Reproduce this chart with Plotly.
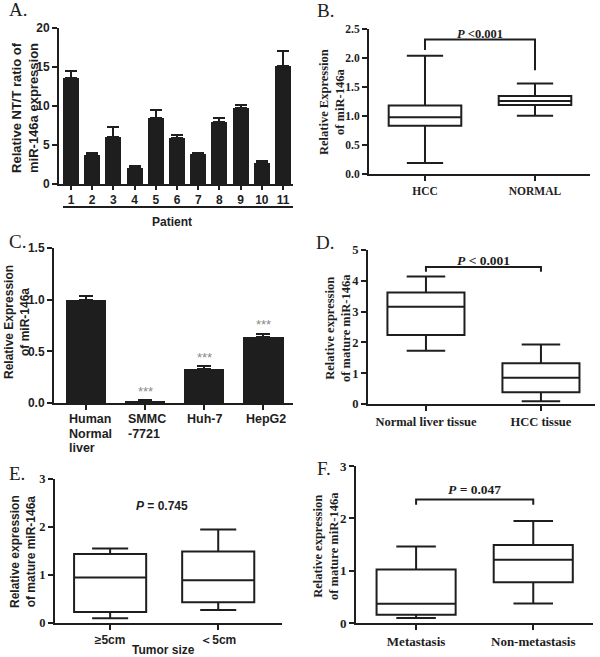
import plotly.graph_objects as go

# ---------------- DATA ----------------
# Panel A
patients = [1, 2, 3, 4, 5, 6, 7, 8, 9, 10, 11]
ratio = [13.6, 3.7, 6.05, 2.1, 8.45, 5.9, 3.85, 8.0, 9.8, 2.7, 15.1]
ratio_err = [0.9, 0.25, 1.2, 0.2, 1.1, 0.35, 0.1, 0.45, 0.3, 0.3, 2.0]

# Panel B
b_groups = ["HCC", "NORMAL"]
b_low = [0.19, 1.006]
b_q1 = [0.83, 1.19]
b_med = [0.98, 1.26]
b_q3 = [1.18, 1.345]
b_high = [2.04, 1.56]

# Panel C
cells = ["Human<br>Normal<br>liver", "SMMC<br>-7721", "Huh-7", "HepG2"]
cell_expr = [0.997, 0.022, 0.325, 0.637]
cell_err = [0.035, 0.008, 0.03, 0.035]
cell_sig = ["", "***", "***", "***"]

# Panel D
d_groups = ["Normal liver tissue", "HCC tissue"]
d_low = [1.73, 0.09]
d_q1 = [2.24, 0.38]
d_med = [3.16, 0.85]
d_q3 = [3.62, 1.32]
d_high = [4.14, 1.93]

# Panel E
e_groups = ["≥5cm", "＜5cm"]
e_low = [0.10, 0.27]
e_q1 = [0.23, 0.43]
e_med = [0.95, 0.89]
e_q3 = [1.44, 1.49]
e_high = [1.55, 1.95]

# Panel F
f_groups = ["Metastasis", "Non-metastasis"]
f_low = [0.095, 0.375]
f_q1 = [0.16, 0.78]
f_med = [0.37, 1.21]
f_q3 = [1.02, 1.49]
f_high = [1.46, 1.95]

# ---------------- LAYOUT HELPERS ----------------
W, H = 600, 657
INK = "#1e1e1e"
SANS = "Liberation Sans, Arial, sans-serif"
SERIF = "Liberation Serif, Times New Roman, serif"


def px_x(p):
    return p / W


def px_y(p):
    return 1 - p / H


fig = go.Figure()

# ---------- Panel A : bars ----------
fig.add_trace(go.Bar(
    x=patients, y=ratio, width=0.75, marker=dict(color=INK, line=dict(width=0)),
    error_y=dict(type="data", symmetric=False, array=ratio_err,
                 arrayminus=[0] * len(ratio_err), color=INK, thickness=2, width=6),
    xaxis="x", yaxis="y", showlegend=False))

# ---------- Panel C : bars ----------
cx = list(range(len(cells)))
fig.add_trace(go.Bar(
    x=cx, y=cell_expr, width=0.68, marker=dict(color=INK, line=dict(width=0)),
    error_y=dict(type="data", symmetric=False, array=cell_err,
                 arrayminus=[0] * len(cell_err), color=INK, thickness=2, width=7),
    xaxis="x3", yaxis="y3", showlegend=False))


def add_boxes(groups, low, q1, med, q3, high, xa, ya, width):
    for i in range(len(groups)):
        fig.add_trace(go.Box(
            x=[i], lowerfence=[low[i]], q1=[q1[i]], median=[med[i]],
            q3=[q3[i]], upperfence=[high[i]], width=width, whiskerwidth=0.5,
            fillcolor="white", line=dict(color=INK, width=2),
            boxpoints=False, xaxis=xa, yaxis=ya, showlegend=False, hoverinfo="skip"))


add_boxes(b_groups, b_low, b_q1, b_med, b_q3, b_high, "x2", "y2", 0.66)
add_boxes(d_groups, d_low, d_q1, d_med, d_q3, d_high, "x4", "y4", 0.67)
add_boxes(e_groups, e_low, e_q1, e_med, e_q3, e_high, "x5", "y5", 0.667)
add_boxes(f_groups, f_low, f_q1, f_med, f_q3, f_high, "x6", "y6", 0.675)


def axis_common(font_family, size=12):
    return dict(showline=True, linecolor=INK, linewidth=2, ticks="outside",
                ticklen=5, tickwidth=2, tickcolor=INK, showgrid=False,
                zeroline=False, fixedrange=True, automargin=False,
                tickfont=dict(family=font_family, size=size, color=INK, weight="bold"))


def dom_x(l, r):
    return [px_x(l), px_x(r)]


def dom_y(top, bottom):
    return [px_y(bottom), px_y(top)]


layout_axes = {}
# A
layout_axes["xaxis"] = dict(axis_common(SANS, 12), domain=dom_x(59, 293), range=[0.434, 11.47],
                            tickvals=patients, ticktext=[str(p) for p in patients],
                            anchor="y", ticklen=4)
layout_axes["yaxis"] = dict(axis_common(SANS, 12), domain=dom_y(28, 184), range=[0, 20],
                            tickvals=[0, 5, 10, 15, 20], anchor="x")
# B
layout_axes["xaxis2"] = dict(axis_common(SERIF, 11.5), domain=dom_x(369, 590), range=[-0.509, 1.5],
                             tickvals=[0, 1], ticktext=b_groups, anchor="y2")
layout_axes["yaxis2"] = dict(axis_common(SERIF, 11.5), domain=dom_y(29, 174), range=[0, 2.5],
                             tickvals=[0, 0.5, 1.0, 1.5, 2.0, 2.5],
                             ticktext=["0.0", "0.5", "1.0", "1.5", "2.0", "2.5"], anchor="x2")
# C
layout_axes["xaxis3"] = dict(axis_common(SANS), domain=dom_x(54, 293), range=[-0.54, 3.5],
                             tickvals=cx, ticktext=[""] * len(cx), anchor="y3")
layout_axes["yaxis3"] = dict(axis_common(SANS), domain=dom_y(248, 403), range=[0, 1.5],
                             tickvals=[0, 0.5, 1.0, 1.5],
                             ticktext=["0.0", "0.5", "1.0", "1.5"], anchor="x3")
# D
layout_axes["xaxis4"] = dict(axis_common(SERIF, 12.5), domain=dom_x(368, 595), range=[-0.504, 1.47],
                             tickvals=[0, 1], ticktext=d_groups, anchor="y4")
layout_axes["yaxis4"] = dict(axis_common(SERIF, 12.5), domain=dom_y(250, 404), range=[0, 5],
                             tickvals=[0, 1, 2, 3, 4, 5], anchor="x4")
# E
layout_axes["xaxis5"] = dict(axis_common(SANS, 12), domain=dom_x(55, 282), range=[-0.51, 1.59],
                             tickvals=[0, 1], ticktext=e_groups, anchor="y5")
layout_axes["yaxis5"] = dict(axis_common(SERIF, 12.5), domain=dom_y(479, 623), range=[0, 3],
                             tickvals=[0, 1, 2, 3], anchor="x5")
# F
layout_axes["xaxis6"] = dict(axis_common(SERIF, 13), domain=dom_x(356, 593), range=[-0.513, 1.51],
                             tickvals=[0, 1], ticktext=f_groups, anchor="y6")
layout_axes["yaxis6"] = dict(axis_common(SERIF, 13), domain=dom_y(466, 623), range=[0, 3],
                             tickvals=[0, 1, 2, 3], anchor="x6")

annotations = []


def txt(x, y, text, family, size, angle=0, xanchor="center", yanchor="middle",
        xref="paper", yref="paper", color=INK, align="center"):
    annotations.append(dict(x=x, y=y, xref=xref, yref=yref, text=text, showarrow=False,
                            textangle=angle, xanchor=xanchor, yanchor=yanchor, align=align,
                            font=dict(family=family, size=size, color=color)))


# panel letters
for letter, lx, ly in [("A.", 7, 9), ("B.", 315, 10), ("C.", 7, 241), ("D.", 314, 242),
                       ("E.", 7, 473), ("F.", 315, 468)]:
    txt(px_x(lx), px_y(ly), letter, SERIF, 19, xanchor="left")

# y-axis titles
txt(px_x(25), px_y(108), "<b>Relative NT/T ratio of<br>miR-146a expression</b>", SANS, 13, angle=-90)
txt(px_x(332), px_y(102), "<b>Relative Expression<br>of miR-146a</b>", SERIF, 12.5, angle=-90)
txt(px_x(17), px_y(322), "<b>Relative Expression<br>of miR-146a</b>", SANS, 12, angle=-90)
txt(px_x(338), px_y(328), "<b>Relative expression<br>of mature miR-146a</b>", SERIF, 12.5, angle=-90)
txt(px_x(23), px_y(552), "<b>Relative expression<br>of mature miR-146a</b>", SANS, 12, angle=-90)
txt(px_x(326), px_y(546), "<b>Relative expression<br>of mature miR-146a</b>", SERIF, 12.5, angle=-90)

# panel A x title
txt(px_x(172), px_y(222), "<b>Patient</b>", SANS, 12)
# panel C category labels (left aligned, one annotation per line)
for i, lab in enumerate(cells):
    for j, line in enumerate(lab.split("<br>")):
        annotations.append(dict(x=i - 0.32, y=px_y(419 + 14.5 * j), xref="x3", yref="paper",
                                text="<b>" + line + "</b>", showarrow=False, xanchor="left",
                                yanchor="middle", align="left",
                                font=dict(family=SANS, size=12.5, color=INK)))
# significance stars
for i, s in enumerate(cell_sig):
    if s:
        annotations.append(dict(x=i, y=cell_expr[i] + cell_err[i] + 0.085, xref="x3", yref="y3",
                                text=s, showarrow=False, yanchor="middle",
                                font=dict(family=SANS, size=13, color="#8a8a8a")))
# panel E x title
txt(px_x(163), px_y(650), "<b>Tumor size</b>", SANS, 12)

# P values
annotations.append(dict(x=0.5, y=px_y(25), xref="x2", yref="paper", text="<b><i>P</i> &lt;0.001</b>",
                        showarrow=False, font=dict(family=SERIF, size=12.5, color=INK)))
annotations.append(dict(x=0.5, y=4.65, xref="x4", yref="y4", text="<b><i>P</i> &lt; 0.001</b>",
                        showarrow=False, font=dict(family=SERIF, size=13.5, color=INK)))
annotations.append(dict(x=0.48, y=2.44, xref="x5", yref="y5", text="<b><i>P</i> = 0.745</b>",
                        showarrow=False, font=dict(family=SANS, size=12, color=INK)))
annotations.append(dict(x=0.5, y=2.55, xref="x6", yref="y6", text="<b><i>P</i> = 0.047</b>",
                        showarrow=False, font=dict(family=SERIF, size=13.5, color=INK)))

shapes = [
    # underline under patient numbers
    dict(type="line", xref="paper", yref="paper", x0=px_x(63), x1=px_x(293),
         y0=px_y(207), y1=px_y(207), line=dict(color=INK, width=2)),
    # brackets
    dict(type="path", xref="x2", yref="y2", path="M 0,2.14 L 0,2.32 L 1,2.32 L 1,1.79",
         line=dict(color=INK, width=2)),
    dict(type="path", xref="x4", yref="y4", path="M 0,4.29 L 0,4.45 L 1,4.45 L 1,4.29",
         line=dict(color=INK, width=2)),
    dict(type="path", xref="x6", yref="y6", path="M 0,2.26 L 0,2.36 L 1,2.36 L 1,2.26",
         line=dict(color=INK, width=2)),
]

fig.update_layout(
    width=W, height=H, margin=dict(l=0, r=0, t=0, b=0),
    paper_bgcolor="white", plot_bgcolor="white", showlegend=False,
    annotations=annotations, shapes=shapes, bargap=0, **layout_axes)

fig.write_html("out.html", config={"displayModeBar": False},
               post_script="document.body.style.margin='0';document.body.style.padding='0';")
